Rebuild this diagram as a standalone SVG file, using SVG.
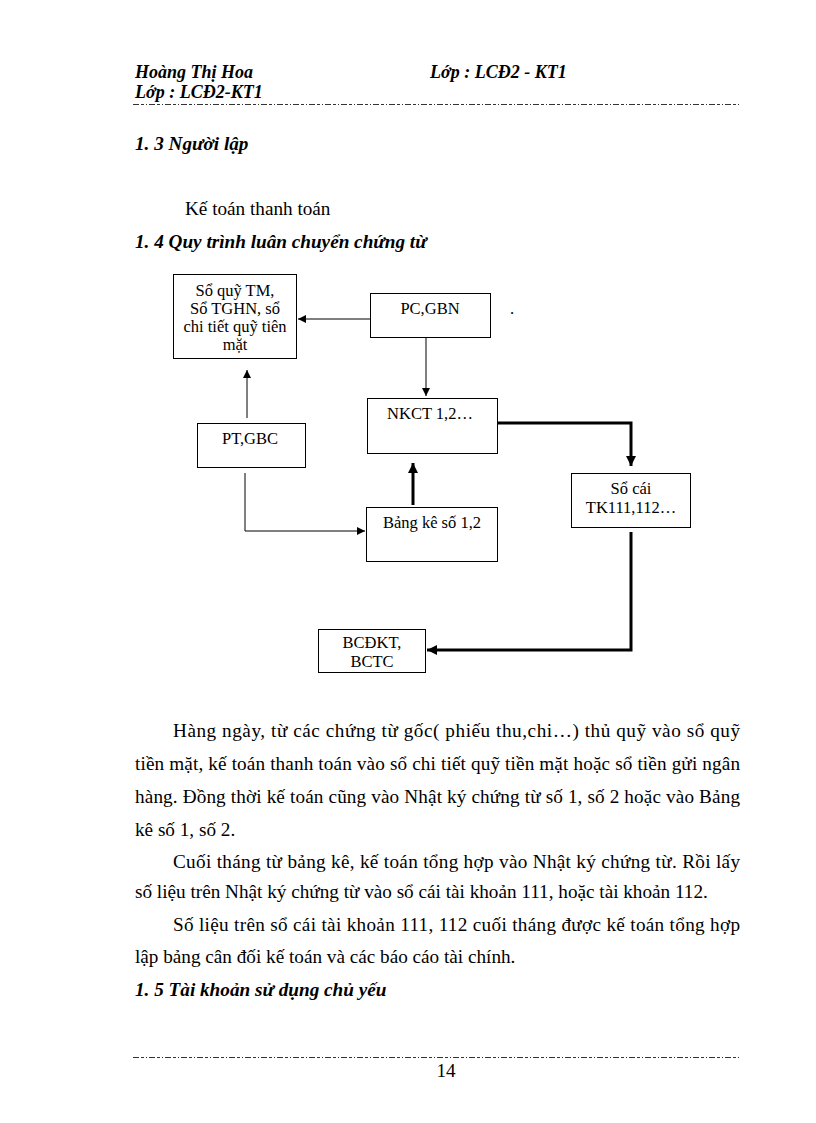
<svg xmlns="http://www.w3.org/2000/svg" width="816" height="1123" viewBox="0 0 816 1123">
<style>
.t{font-family:"Liberation Serif","Times New Roman",serif;font-size:19.2px;fill:#000}
.bi{font-family:"Liberation Serif","Times New Roman",serif;font-weight:bold;font-style:italic;fill:#000}
.bx{font-family:"Liberation Serif","Times New Roman",serif;font-size:16.5px;fill:#000}
.box{fill:#fff;stroke:#000;stroke-width:1}
.thin{fill:none;stroke:#000;stroke-width:1}
.thick{fill:none;stroke:#000;stroke-width:3}
.dd{stroke:#333;stroke-width:1;stroke-dasharray:6 2 3 2 1 2}
</style>
<defs>
<marker id="ah" markerUnits="userSpaceOnUse" markerWidth="10" markerHeight="10" refX="9" refY="5" orient="auto">
<path d="M1,1 L9,5 L1,9 Z" fill="#000"/>
</marker>
<marker id="ahb" markerUnits="userSpaceOnUse" markerWidth="12" markerHeight="12" refX="11" refY="6" orient="auto">
<path d="M1,1 L11,6 L1,11 Z" fill="#000"/>
</marker>
</defs>
<rect width="816" height="1123" fill="#fff"/>

<g id="header">
<text class="bi" x="135" y="78" font-size="18">Hoàng Thị Hoa</text>
<text class="bi" x="430" y="78" font-size="18">Lớp : LCĐ2 - KT1</text>
<text class="bi" x="135" y="98" font-size="18">Lớp : LCĐ2-KT1</text>
<line class="dd" x1="133" y1="104.5" x2="741" y2="104.5"/>
</g>

<text class="bi" x="135" y="150" font-size="19.2">1. 3 Người lập</text>
<text class="t" x="185" y="215">Kế toán thanh toán</text>
<text class="bi" x="135" y="248" font-size="19.2">1. 4 Quy trình luân chuyển chứng từ</text>

<g id="connectors">
<line class="thin" x1="370" y1="319" x2="298" y2="319" marker-end="url(#ah)"/>
<line class="thin" x1="426" y1="337" x2="426" y2="396" marker-end="url(#ah)"/>
<line class="thin" x1="247" y1="418" x2="247" y2="370" marker-end="url(#ah)"/>
<polyline class="thin" points="245,473 245,531 365,531" marker-end="url(#ah)"/>
<line class="thick" x1="413" y1="505" x2="413" y2="463" marker-end="url(#ahb)"/>
<polyline class="thick" points="498,423 631,423 631,466" marker-end="url(#ahb)"/>
<polyline class="thick" points="631,532 631,650 427,650" marker-end="url(#ahb)"/>
</g>

<g id="n-soquy">
<rect class="box" x="173.5" y="274.5" width="123" height="84"/>
<text class="bx" x="235" y="296" text-anchor="middle">Sổ quỹ TM,</text>
<text class="bx" x="235" y="314" text-anchor="middle">Sổ TGHN, sổ</text>
<text class="bx" x="235" y="332" text-anchor="middle">chi tiết quỹ tiên</text>
<text class="bx" x="235" y="350" text-anchor="middle">mặt</text>
</g>
<g id="n-pcgbn">
<rect class="box" x="370.5" y="293.5" width="120" height="44"/>
<text class="bx" x="430" y="314" text-anchor="middle">PC,GBN</text>
</g>
<text class="bx" x="510" y="314">.</text>
<g id="n-nkct">
<rect class="box" x="367.5" y="398.5" width="130" height="55"/>
<text class="bx" x="430" y="419" text-anchor="middle">NKCT 1,2…</text>
</g>
<g id="n-ptgbc">
<rect class="box" x="197.5" y="423.5" width="108" height="44"/>
<text class="bx" x="250" y="444" text-anchor="middle">PT,GBC</text>
</g>
<g id="n-bangke">
<rect class="box" x="366.5" y="507.5" width="131" height="54"/>
<text class="bx" x="432" y="528" text-anchor="middle">Bảng kê số 1,2</text>
</g>
<g id="n-socai">
<rect class="box" x="571.5" y="473.5" width="119" height="54"/>
<text class="bx" x="631" y="494" text-anchor="middle">Sổ cái</text>
<text class="bx" x="631" y="513" text-anchor="middle">TK111,112…</text>
</g>
<g id="n-bcdkt">
<rect class="box" x="318.5" y="629.5" width="107" height="43"/>
<text class="bx" x="372" y="648" text-anchor="middle">BCĐKT,</text>
<text class="bx" x="372" y="667" text-anchor="middle">BCTC</text>
</g>

<g id="body">
<text class="t" x="173" y="737" textLength="567" lengthAdjust="spacing">Hàng ngày, từ các chứng từ gốc( phiếu thu,chi…) thủ quỹ vào sổ quỹ</text>
<text class="t" x="135" y="770" textLength="605" lengthAdjust="spacing">tiền mặt, kế toán thanh toán vào sổ chi tiết quỹ tiền mặt hoặc sổ tiền gửi ngân</text>
<text class="t" x="135" y="803" textLength="605" lengthAdjust="spacing">hàng. Đồng thời kế toán cũng vào Nhật ký chứng từ số 1, số 2 hoặc vào Bảng</text>
<text class="t" x="135" y="836">kê số 1, số 2.</text>
<text class="t" x="173" y="868" textLength="567" lengthAdjust="spacing">Cuối tháng từ bảng kê, kế toán tổng hợp vào Nhật ký chứng từ. Rồi lấy</text>
<text class="t" x="135" y="898">số liệu  trên Nhật ký chứng từ vào sổ cái tài khoản 111, hoặc tài khoản 112.</text>
<text class="t" x="173" y="931" textLength="567" lengthAdjust="spacing">Số liệu trên sổ cái tài khoản 111, 112 cuối tháng được kế toán tổng hợp</text>
<text class="t" x="135" y="963">lập bảng cân đối kế toán và các báo cáo tài chính.</text>
<text class="bi" x="135" y="996" font-size="19.2">1. 5 Tài khoản sử dụng chủ yếu</text>
</g>

<g id="footer">
<line class="dd" x1="133" y1="1057.5" x2="741" y2="1057.5"/>
<text class="t" x="446" y="1077" text-anchor="middle" font-size="16">14</text>
</g>
</svg>
